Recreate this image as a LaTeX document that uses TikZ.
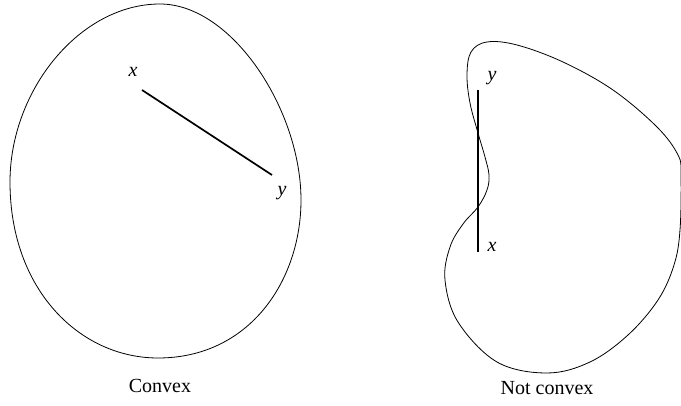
\documentclass[tikz,border=0pt]{standalone}
\usepackage{fontspec}
\setmainfont{Liberation Serif}
\begin{document}
\begin{tikzpicture}[x=1pt,y=-1pt,
  outline/.style={line width=0.8pt},
  segment/.style={line width=1.7pt},
  lbl/.style={inner sep=0pt,font=\fontsize{20}{24}\selectfont\itshape},
  caption/.style={inner sep=0pt,font=\fontsize{20}{24}\selectfont}]
\useasboundingbox (0,0) rectangle (681,406);
% convex egg
\draw[outline] (160,4) .. controls (80,4) and (10,90) .. (10,182)
  .. controls (10,290) and (80,358) .. (158,358)
  .. controls (250,358) and (301,280) .. (301,200)
  .. controls (301,110) and (232,4) .. (160,4) -- cycle;
\coordinate (cx) at (142,90);
\coordinate (cy) at (272,175);
\draw[segment] (cx) -- (cy);
\node[lbl] (lx1) at (133,72) {x};
\node[lbl] (ly1) at (282,193) {y};
\node[caption] (c1) at (160,386) {Convex};
% non-convex
\draw[outline] plot[smooth cycle, tension=0.6] coordinates {
 (487,42) (517,45) (563,62) (613,90) (657,127) (678,155) (681,175)
 (680,230) (674,265) (658,300) (628,335) (590,362) (547,373)
 (497,362) (458,322) (445,280) (450,247) (463,224) (478,207)
 (487,190) (489,175) (485,157) (478,133) (470,103) (467,75) (471,52)};
\coordinate (nx) at (478,252);
\coordinate (ny) at (478,90);
\draw[segment] (nx) -- (ny);
\node[lbl] (ly2) at (492,78) {y};
\node[lbl] (lx2) at (492,247) {x};
\node[caption] (c2) at (547,388) {Not convex};
\end{tikzpicture}
\end{document}
